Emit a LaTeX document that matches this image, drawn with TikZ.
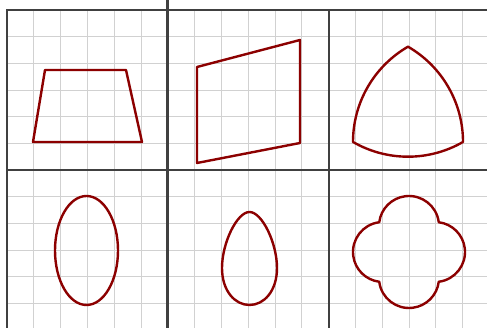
\documentclass[tikz,border=0pt]{standalone}
\begin{document}
\begin{tikzpicture}[x=1pt,y=1pt,
  thin grid/.style={draw=black!18,line width=0.8pt},
  thick grid/.style={draw=black!75,line width=2.2pt},
  shape line/.style={draw=red!55!black,line width=2.4pt,line join=round,line cap=round}]
\useasboundingbox (0,0) rectangle (487,328);
\fill[white] (0,0) rectangle (487,328);
% thin grid
\foreach \k in {1,...,17}{
  \draw[thin grid] ({7+\k*26.8},0) -- ({7+\k*26.8},318);
}
\foreach \k in {1,...,11}{
  \draw[thin grid] (7,{318-\k*26.67}) -- (487,{318-\k*26.67});
}
% thick grid
\draw[thick grid] (7,0) -- (7,318);
\draw[thick grid] (167.5,0) -- (167.5,328);
\draw[thick grid] (329,0) -- (329,318);
\draw[thick grid] (6,318) -- (487,318);
\draw[thick grid] (7,158) -- (487,158);
% trapezoid
\draw[shape line] (45,258) -- (126,258) -- (142,186) -- (33,186) -- cycle;
% parallelogram
\draw[shape line] (197,261) -- (300,288) -- (300,185) -- (197,165) -- cycle;
% Reuleaux triangle
\draw[shape line] (408,281.3) arc[start angle=120,end angle=180,radius=110pt]
  arc[start angle=240,end angle=300,radius=110pt]
  arc[start angle=0,end angle=60,radius=110pt] -- cycle;
% ellipse
\draw[shape line] (86.5,77.5) ellipse[x radius=31.5pt,y radius=54.5pt];
% egg
\draw[shape line] (249.5,116) .. controls (262,116) and (277,85) .. (277,60)
  .. controls (277,37) and (264,23) .. (249.5,23)
  .. controls (235,23) and (222,37) .. (222,60)
  .. controls (222,85) and (237,116) .. cycle;
% quatrefoil
\draw[shape line] ({409+29.76},{76+29.76})
  arc[start angle=7.2,end angle=172.8,radius=30pt]
  arc[start angle=97.2,end angle=262.8,radius=30pt]
  arc[start angle=187.2,end angle=352.8,radius=30pt]
  arc[start angle=277.2,end angle=442.8,radius=30pt] -- cycle;
\end{tikzpicture}
\end{document}
